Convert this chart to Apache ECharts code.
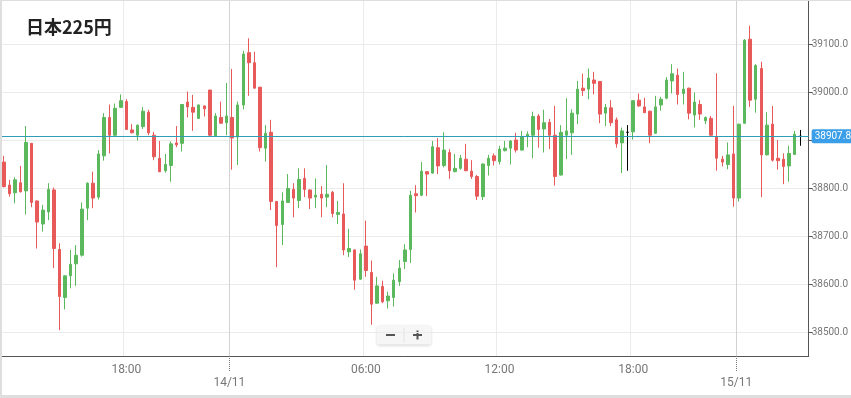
<!DOCTYPE html>
<html>
<head>
<meta charset="utf-8">
<script src="https://cdn.jsdelivr.net/npm/echarts@6/dist/echarts.min.js"></script>
<style>
  html, body { margin: 0; padding: 0; background: #fff; }
  #main { width: 851px; height: 398px; position: relative; }
  .edge { position: absolute; background: #dedede; z-index: 10; }
</style>
</head>
<body>
<div id="main"></div>
<div class="edge" style="left:0;top:0;width:851px;height:1px;"></div>
<div class="edge" style="left:0;top:0;width:2px;height:398px;"></div>
<div class="edge" style="left:0;top:395px;width:851px;height:3px;"></div>
<script>
// 15 min candles, 13/11 12:30 -> 15/11 02:45 (last slot empty)
var categories = [
  '13/11 12:30','13/11 12:45','13/11 13:00','13/11 13:15','13/11 13:30','13/11 13:45','13/11 14:00','13/11 14:15',
  '13/11 14:30','13/11 14:45','13/11 15:00','13/11 15:15','13/11 15:30','13/11 15:45','13/11 16:00','13/11 16:15',
  '13/11 16:30','13/11 16:45','13/11 17:00','13/11 17:15','13/11 17:30','13/11 17:45','13/11 18:00','13/11 18:15',
  '13/11 18:30','13/11 18:45','13/11 19:00','13/11 19:15','13/11 19:30','13/11 19:45','13/11 20:00','13/11 20:15',
  '13/11 20:30','13/11 20:45','13/11 21:00','13/11 21:15','13/11 21:30','13/11 21:45','13/11 22:00','13/11 22:15',
  '13/11 22:30',
  '14/11 00:00','14/11 00:15','14/11 00:30','14/11 00:45','14/11 01:00','14/11 01:15','14/11 01:30','14/11 01:45',
  '14/11 02:00','14/11 02:15','14/11 02:30','14/11 02:45','14/11 03:00','14/11 03:15','14/11 03:30','14/11 03:45',
  '14/11 04:00','14/11 04:15','14/11 04:30','14/11 04:45','14/11 05:00','14/11 05:15','14/11 05:30','14/11 05:45',
  '14/11 06:00','14/11 06:15','14/11 06:30','14/11 06:45','14/11 07:00','14/11 07:15','14/11 07:30','14/11 07:45',
  '14/11 08:00','14/11 08:15','14/11 08:30','14/11 08:45','14/11 09:00','14/11 09:15','14/11 09:30','14/11 09:45',
  '14/11 10:00','14/11 10:15','14/11 10:30','14/11 10:45','14/11 11:00','14/11 11:15','14/11 11:30','14/11 11:45',
  '14/11 12:00','14/11 12:15','14/11 12:30','14/11 12:45','14/11 13:00','14/11 13:15','14/11 13:30','14/11 13:45',
  '14/11 14:00','14/11 14:15','14/11 14:30','14/11 14:45','14/11 15:00','14/11 15:15','14/11 15:30','14/11 15:45',
  '14/11 16:00','14/11 16:15','14/11 16:30','14/11 16:45','14/11 17:00','14/11 17:15','14/11 17:30','14/11 17:45',
  '14/11 18:00','14/11 18:15','14/11 18:30','14/11 18:45','14/11 19:00','14/11 19:15','14/11 19:30','14/11 19:45',
  '14/11 20:00','14/11 20:15','14/11 20:30','14/11 20:45','14/11 21:00','14/11 21:15','14/11 21:30','14/11 21:45',
  '14/11 22:00','14/11 22:15','14/11 22:30',
  '15/11 00:00','15/11 00:15','15/11 00:30','15/11 00:45','15/11 01:00','15/11 01:15','15/11 01:30','15/11 01:45',
  '15/11 02:00','15/11 02:15','15/11 02:30','15/11 02:45','15/11 03:00'
];

var openVals = [
  38854,38806,38790,38811,38794,38893,38773,38725,38750,38796,38672,38572,38617,38642,38660,38758,
  38810,38781,38867,38947,38910,38968,38980,38921,38910,38928,38958,38910,38862,38836,38847,38894,
  38893,38979,38968,38945,38971,39004,38908,38947,38936,38947,38906,38973,39082,39061,39010,38883,
  38916,38772,38724,38770,38797,38774,38820,38796,38781,38787,38781,38791,38745,38746,38667,38671,
  38610,38679,38624,38560,38595,38565,38572,38605,38647,38672,38788,38785,38834,38831,38884,38847,
  38874,38834,38841,38860,38835,38824,38782,38847,38867,38855,38878,38883,38900,38879,38908,38910,
  38950,38923,38937,38910,38827,38910,38915,38954,39008,39006,39025,39022,38956,38967,38942,38894,
  38916,38917,38983,38969,38960,38914,38973,38987,39023,39035,38997,39008,38952,38974,38940,38945,
  38907,38860,38849,38871,38779,38935,39110,38985,39049,38869,38933,38862,38860,38846,38870,38907.8
];
var closeVals = [
  38803,38788,38817,38792,38895,38770,38729,38754,38797,38674,38574,38617,38641,38660,38756,38810,
  38779,38871,38947,38910,38966,38982,38922,38915,38931,38960,38915,38865,38834,38849,38892,38890,
  38974,38969,38958,38973,38965,38910,38950,38935,38950,38904,38973,39079,39061,39008,38884,38914,
  38772,38722,38773,38799,38779,38818,38797,38779,38785,38779,38787,38747,38749,38671,38674,38608,
  38663,38628,38558,38596,38563,38575,38608,38633,38671,38785,38784,38835,38829,38886,38846,38879,
  38836,38841,38862,38836,38824,38783,38850,38862,38857,38881,38883,38898,38879,38907,38912,38949,
  38922,38936,38910,38824,38916,38919,38956,39006,39003,39029,39018,38954,38968,38936,38892,38919,
  38916,38982,38971,38957,38910,38969,38985,39025,39038,38995,39006,38956,38979,38954,38947,38910,
  38862,38854,38869,38779,38933,39108,38983,39055,38869,38931,38858,38857,38845,38872,38912,38907.8
];
var lowVals = [
  38801,38782,38768,38791,38745,38760,38674,38709,38733,38633,38504,38547,38591,38596,38657,38733,
  38758,38776,38857,38872,38909,38967,38921,38914,38899,38923,38910,38858,38833,38832,38813,38885,
  38876,38947,38919,38944,38949,38907,38907,38934,38910,38838,38848,38964,38992,39007,38876,38855,
  38754,38635,38681,38769,38739,38758,38781,38756,38758,38739,38760,38739,38725,38660,38656,38588,
  38609,38615,38515,38559,38560,38549,38553,38596,38631,38644,38749,38783,38783,38830,38829,38843,
  38819,38833,38838,38835,38819,38775,38775,38826,38847,38849,38876,38849,38874,38878,38885,38862,
  38884,38874,38881,38805,38826,38860,38869,38933,38992,38985,38995,38935,38929,38929,38884,38831,
  38836,38901,38969,38956,38893,38913,38961,38985,38997,38974,38974,38943,38926,38942,38933,38909,
  38836,38845,38839,38761,38772,38934,38969,38957,38781,38868,38855,38838,38808,38813,38869,38888
];
var highVals = [
  38867,38817,38822,38846,38929,38894,38774,38765,38810,38801,38685,38618,38671,38681,38770,38812,
  38834,38879,38956,38974,38976,38995,38985,38933,38932,38969,38963,38917,38898,38871,38897,38929,
  38975,39001,38994,38974,38972,39005,38956,38980,39019,39048,38980,39086,39112,39084,39011,38931,
  38942,38773,38791,38829,38810,38841,38841,38797,38820,38804,38848,38794,38773,38810,38715,38672,
  38672,38732,38649,38615,38607,38584,38622,38650,38683,38794,38806,38854,38835,38898,38904,38916,
  38881,38871,38869,38892,38858,38827,38851,38869,38872,38888,38898,38900,38915,38919,38918,38959,
  38954,38963,38944,38971,38931,38987,38964,39023,39038,39049,39042,39023,38975,38983,38947,38926,
  38931,38983,38997,38988,38961,38992,38990,39031,39058,39049,39042,39009,38999,38983,38949,38950,
  39039,38867,38895,38971,38934,39110,39138,39058,39063,38958,38971,38900,38872,38888,38919,38921
];

var timeLabels = ['06:00', '12:00', '18:00'];
var dayBreaks = [40.5, 131.5];
var dayLabels = ['14/11', '15/11'];
var yTicks = [38500, 38600, 38700, 38800, 38900, 39000, 39100];

var candleData = [];
for (var i = 0; i < openVals.length; i++) {
  candleData.push([openVals[i], closeVals[i], lowVals[i], highVals[i]]);
}
var lastPrice = closeVals[closeVals.length - 1];

function isTimeLabel(index, value) {
  return timeLabels.indexOf(value.substring(6)) > -1;
}

var chart = echarts.init(document.getElementById('main'));
chart.setOption({
  animation: false,
  textStyle: { fontFamily: 'Roboto' },
  title: {
    text: '日本225円',
    left: 21,
    top: 13,
    textStyle: {
      fontSize: 18,
      fontWeight: 'bold',
      color: '#222',
      fontFamily: 'Noto Sans CJK JP'
    }
  },
  grid: { left: 1, right: 41, top: 1, bottom: 42 },
  xAxis: [
    {
      type: 'category',
      data: categories,
      boundaryGap: true,
      axisLine: { onZero: false, lineStyle: { color: '#555' } },
      axisTick: {
        alignWithLabel: true,
        interval: isTimeLabel,
        length: 5,
        lineStyle: { color: '#555' }
      },
      axisLabel: {
        interval: isTimeLabel,
        formatter: function (value) { return value.substring(6); },
        color: '#777',
        fontSize: 12,
        margin: 8
      },
      splitLine: {
        show: true,
        interval: isTimeLabel,
        lineStyle: { color: '#ebebeb' }
      }
    },
    {
      type: 'value',
      position: 'bottom',
      min: -0.5,
      max: categories.length - 0.5,
      axisLine: { show: false, onZero: false },
      axisTick: {
        customValues: dayBreaks,
        length: 16,
        lineStyle: { color: '#777', type: 'dotted' }
      },
      axisLabel: {
        customValues: dayBreaks,
        formatter: function (v) { return dayLabels[dayBreaks.indexOf(v)]; },
        color: '#777',
        fontSize: 12,
        margin: 21
      },
      splitLine: { show: true, lineStyle: { color: '#d2d2d2' } }
    }
  ],
  yAxis: {
    type: 'value',
    position: 'right',
    min: 38450,
    max: 39189.6,
    axisLine: { show: true, onZero: false, lineStyle: { color: '#555' } },
    axisTick: { show: true, customValues: yTicks, length: 4, lineStyle: { color: '#555' } },
    axisLabel: {
      customValues: yTicks,
      formatter: function (v) { return v.toFixed(1); },
      color: '#777',
      fontSize: 10,
      margin: 3
    },
    splitLine: { show: true, lineStyle: { color: '#ebebeb' } }
  },
  series: [
    {
      name: '日本225円',
      type: 'candlestick',
      xAxisIndex: 0,
      data: candleData,
      barWidth: 3,
      itemStyle: {
        color: '#5cb85c',
        borderColor: '#5cb85c',
        color0: '#e85a5a',
        borderColor0: '#e85a5a',
        borderColorDoji: '#000',
        borderWidth: 1
      },
      markLine: {
        silent: true,
        symbol: ['none', 'none'],
        data: [{ yAxis: lastPrice }],
        lineStyle: { color: '#2e9db8', width: 1, type: 'solid' },
        label: {
          position: 'end',
          distance: 3,
          formatter: lastPrice.toFixed(1),
          backgroundColor: '#3a9fe8',
          color: '#fff',
          fontSize: 10,
          padding: [2, 3],
          borderRadius: 2
        }
      }
    }
  ],
  // zoom buttons (- / +)
  graphic: [
    {
      type: 'group',
      left: 377,
      top: 325,
      children: [
        {
          type: 'rect',
          shape: { x: 0, y: 0, width: 54, height: 19, r: 2 },
          style: { fill: '#f6f6f6', shadowBlur: 3, shadowColor: 'rgba(0,0,0,0.18)', shadowOffsetY: 1 }
        },
        {
          type: 'line',
          shape: { x1: 27, y1: 2, x2: 27, y2: 17 },
          style: { stroke: '#e2e2e2', lineWidth: 1 }
        },
        { type: 'rect', shape: { x: 9, y: 8.5, width: 9, height: 2 }, style: { fill: '#555' } },
        { type: 'rect', shape: { x: 36, y: 8.5, width: 9, height: 2 }, style: { fill: '#555' } },
        { type: 'rect', shape: { x: 39.5, y: 5, width: 2, height: 9 }, style: { fill: '#555' } }
      ]
    }
  ]
});
</script>
</body>
</html>
